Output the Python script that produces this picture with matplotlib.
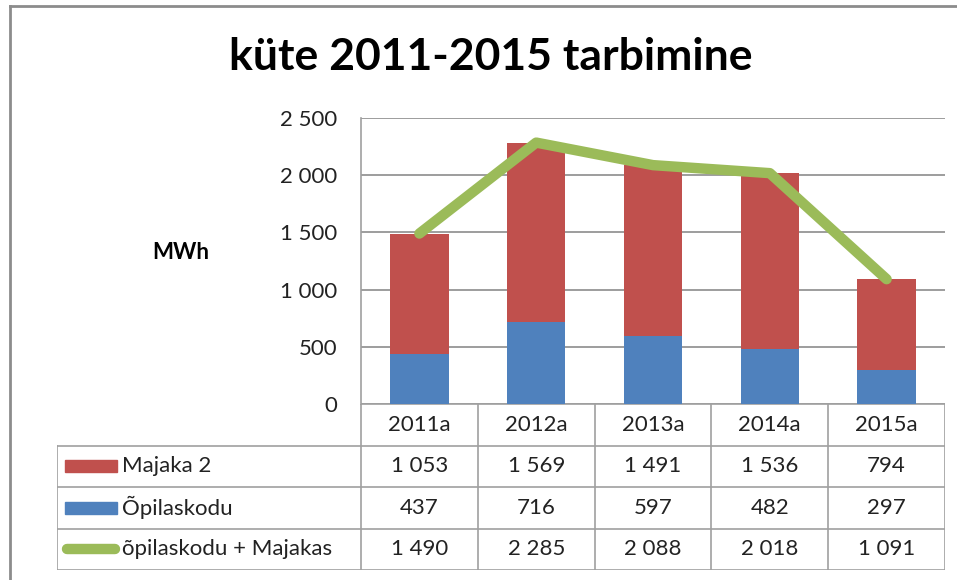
import matplotlib
matplotlib.use("Agg")
import matplotlib.pyplot as plt
from matplotlib.patches import Rectangle
from matplotlib.ticker import FuncFormatter, MultipleLocator

categories = ["2011a", "2012a", "2013a", "2014a", "2015a"]
majaka2 = [1053, 1569, 1491, 1536, 794]
opilaskodu = [437, 716, 597, 482, 297]
total = [1490, 2285, 2088, 2018, 1091]
series_names = ["Majaka 2", "Õpilaskodu", "õpilaskodu + Majakas"]
title = "küte 2011-2015 tarbimine"
ylabel = "MWh"

RED = "#C0504D"
BLUE = "#4F81BD"
GREEN = "#9BBB59"
GRID = "#8C8C8C"
TBL = "#A0A0A0"
FONT = ["Lato", "DejaVu Sans"]
FS = 16

W, H = 957, 580
fig = plt.figure(figsize=(W / 100, H / 100), dpi=100)
plt.rcParams["font.family"] = FONT

def fx(px):
    return px / W

def fy(py):
    return 1 - py / H

# outer border (only top and left edges visible)
fig.add_artist(plt.Line2D([fx(10), fx(10)], [fy(6), 0], transform=fig.transFigure,
                          color="#8C8C8C", linewidth=2))
fig.add_artist(plt.Line2D([fx(10), 1], [fy(6), fy(6)], transform=fig.transFigure,
                          color="#8C8C8C", linewidth=2))

L, R, T, B = 361, 945, 118, 404
ax = fig.add_axes([fx(L), fy(B), fx(R - L), (B - T) / H])
x = list(range(len(categories)))
ax.bar(x, opilaskodu, width=0.5, color=BLUE, zorder=2)
ax.bar(x, majaka2, width=0.5, bottom=opilaskodu, color=RED, zorder=2)
ax.plot(x, total, color=GREEN, linewidth=7.5, solid_capstyle="round",
        solid_joinstyle="round", zorder=3)
ax.set_xlim(-0.5, len(categories) - 0.5)
ax.set_ylim(0, 2500)
ax.yaxis.set_major_locator(MultipleLocator(500))
ax.yaxis.set_major_formatter(FuncFormatter(lambda v, p: f"{v:,.0f}".replace(",", " ")))
ax.grid(axis="y", color=GRID, linewidth=1.2, zorder=0)
ax.set_axisbelow(True)
for s in ["top", "right", "bottom"]:
    ax.spines[s].set_visible(False)
ax.spines["left"].set_color(TBL)
ax.spines["left"].set_linewidth(1.2)
ax.tick_params(axis="y", length=0, pad=17, labelsize=FS, labelcolor="#222222")
ax.set_xticks([])

fig.text(fx(491), fy(57), title, ha="center", va="center", fontsize=32,
         fontweight="bold", family=FONT)
fig.text(fx(181), fy(253), ylabel, ha="center", va="center", fontsize=16,
         fontweight="bold", family=FONT)

# data table
TL, TB = 57, 570
unit = (R - L) / len(categories)
label_w = (L - TL) / unit
tax = fig.add_axes([fx(TL), fy(TB), fx(R - TL), (TB - B) / H])
tax.set_xlim(-0.5 - label_w, len(categories) - 0.5)
tax.set_ylim(4, 0)
tax.axis("off")
lw = 1.2
tax.plot([-0.5, len(categories) - 0.5], [0, 0], color=TBL, lw=lw)
for r in [1, 2, 3, 4]:
    tax.plot([-0.5 - label_w, len(categories) - 0.5], [r, r], color=TBL, lw=lw)
tax.plot([-0.5 - label_w] * 2, [1, 4], color=TBL, lw=lw)
for i in range(len(categories) + 1):
    tax.plot([i - 0.5] * 2, [0, 4], color=TBL, lw=lw)
for i, c in enumerate(categories):
    tax.text(i, 0.5, c, ha="center", va="center", fontsize=FS, color="#222222")
rows = [majaka2, opilaskodu, total]
fmt = lambda v: f"{v:,.0f}".replace(",", " ")
for r, vals in enumerate(rows):
    for i, v in enumerate(vals):
        tax.text(i, r + 1.5, fmt(v), ha="center", va="center", fontsize=FS, color="#222222")
kx0 = -0.5 - label_w + (65 - TL) / unit
kx1 = -0.5 - label_w + (117 - TL) / unit
tax.add_patch(Rectangle((kx0, 1.5 - 0.15), kx1 - kx0, 0.3, color=RED))
tax.add_patch(Rectangle((kx0, 2.5 - 0.15), kx1 - kx0, 0.3, color=BLUE))
tax.plot([kx0 + 0.02, kx1 - 0.02], [3.5, 3.5], color=GREEN, lw=7.5, solid_capstyle="round")
tx = -0.5 - label_w + (122 - TL) / unit
for r, name in enumerate(series_names):
    tax.text(tx, r + 1.5, name, ha="left", va="center", fontsize=FS, color="#222222")

fig.savefig("out.png", dpi=100)
